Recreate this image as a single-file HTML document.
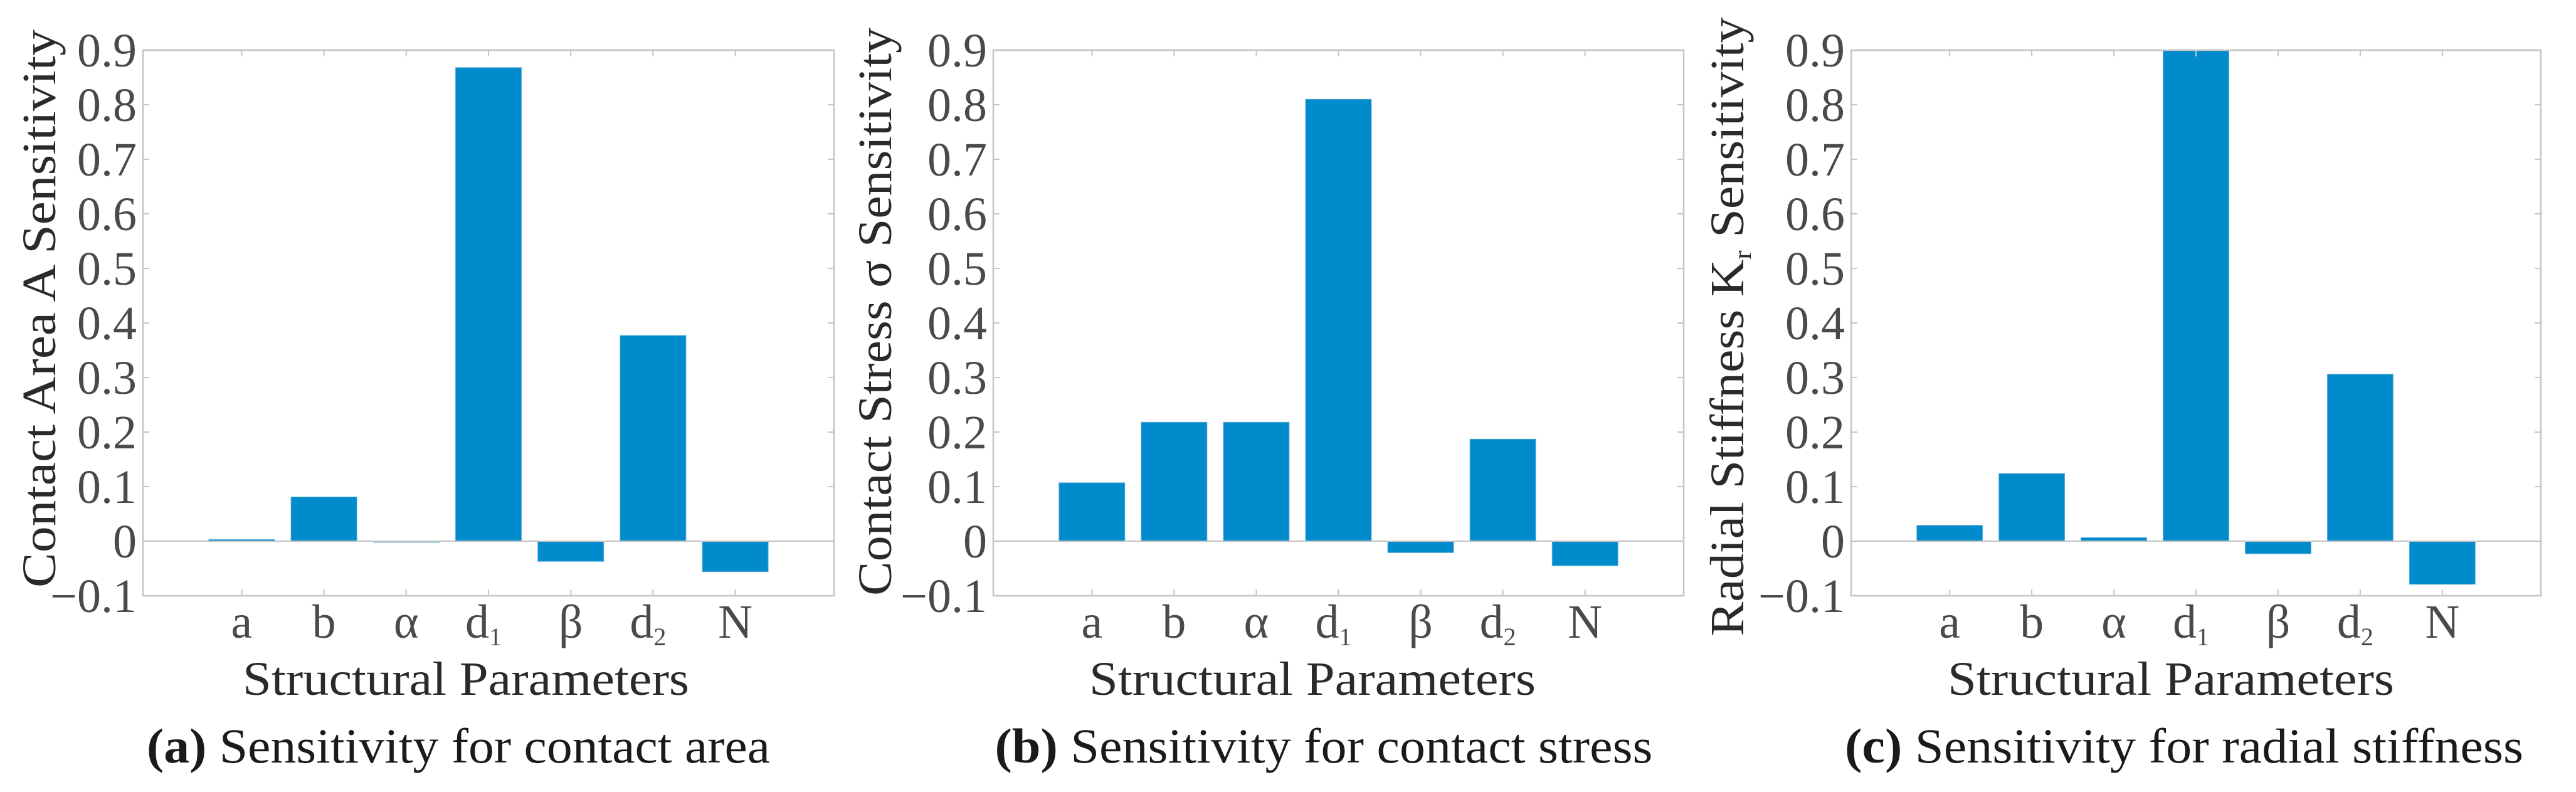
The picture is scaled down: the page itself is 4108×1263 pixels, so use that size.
<!DOCTYPE html>
<html><head><meta charset="utf-8"><style>
html,body{margin:0;padding:0;background:#fff;}
svg{display:block;}
text{font-family:"Liberation Serif",serif;}
</style></head><body>
<svg id="fig" width="4108" height="1263" viewBox="0 0 4108 1263" xmlns="http://www.w3.org/2000/svg"></svg>
<script>
const categories = ['a','b','α','d1','β','d2','N'];
const areaValues = [0.003, 0.081, -0.002, 0.868, -0.037, 0.377, -0.056];
const stressValues = [0.107, 0.218, 0.218, 0.810, -0.021, 0.187, -0.045];
const stiffnessValues = [0.029, 0.124, 0.0065, 0.900, -0.023, 0.306, -0.079];
const yTicks = [-0.1, 0, 0.1, 0.2, 0.3, 0.4, 0.5, 0.6, 0.7, 0.8, 0.9];
const yTickLabels = ['\u22120.1','0','0.1','0.2','0.3','0.4','0.5','0.6','0.7','0.8','0.9'];

const NS = 'http://www.w3.org/2000/svg';
const svg = document.getElementById('fig');
function mk(tag, attrs, parent){const e=document.createElementNS(NS,tag);for(const k in attrs)e.setAttribute(k,attrs[k]);(parent||svg).appendChild(e);return e;}

const panels = [
 {id:'a', L:228, R:1330, vals:areaValues, ylab:['Contact Area A Sensitivity'], ylx:62, ycy:492, ylen:890, sx:743, cx:731, cap:'Sensitivity for contact area', capw:994, tlx:218},
 {id:'b', L:1584, R:2685, vals:stressValues, ylab:['Contact Stress σ Sensitivity'], ylx:1395, ycy:497, ylen:906, sx:2093, cx:2111, cap:'Sensitivity for contact stress', capw:1049, tlx:1574},
 {id:'c', L:2952, R:4052, vals:stiffnessValues, ylab:null, ylx:2754, ycy:521, ylen:987, sx:3462, cx:3483, cap:'Sensitivity for radial stiffness', capw:1082, tlx:2942}
];
const TOP=80, BOT=950, Y0=-0.1, Y1=0.9, X0=-0.2, X1=8.2;

panels.forEach(p=>{
  const g = mk('g',{});
  
  
  const xs = v => p.L + (v - X0)/(X1 - X0)*(p.R - p.L);
  const ys = v => BOT - (v - Y0)/(Y1 - Y0)*(BOT - TOP);
  // bars
  p.vals.forEach((v,i)=>{
    const x = xs(i+1-0.4), w = xs(i+1.4)-xs(i+0.6);
    const y = Math.min(ys(v), ys(0)), h = Math.max(Math.abs(ys(v)-ys(0)),1.5);
    const r = mk('rect',{x:x,y:y,width:w,height:h,fill:'#008bcd',stroke:'#5aa9d6','stroke-width':1},g);
    
    
  });
  // zero line
  const z = mk('line',{x1:p.L,x2:p.R,y1:ys(0),y2:ys(0),stroke:'#c4c4c4','stroke-width':2},g);
  
  
  // box
  const b = mk('rect',{x:p.L,y:TOP,width:p.R-p.L,height:BOT-TOP,fill:'none',stroke:'#c4c4c4','stroke-width':2.5},g);
  
  
  // y ticks
  yTicks.forEach((t,i)=>{
    mk('line',{x1:p.L,x2:p.L+10,y1:ys(t),y2:ys(t),stroke:'#c4c4c4','stroke-width':2},g);
    mk('line',{x1:p.R,x2:p.R-10,y1:ys(t),y2:ys(t),stroke:'#c4c4c4','stroke-width':2},g);
    const tx = mk('text',{x:p.tlx,y:ys(t)+26,'text-anchor':'end','font-size':76,fill:'#4a4a4a'},g);
    tx.textContent = yTickLabels[i];
    
    
  });
  // x ticks
  categories.forEach((c,i)=>{
    const x = xs(i+1);
    mk('line',{x1:x,x2:x,y1:BOT,y2:BOT-10,stroke:'#c4c4c4','stroke-width':2},g);
    mk('line',{x1:x,x2:x,y1:TOP,y2:TOP+10,stroke:'#c4c4c4','stroke-width':2},g);
    const tx = mk('text',{x:x,y:1017,'text-anchor':'middle','font-size':76,fill:'#4a4a4a'},g);
    if(c.length===2){
      tx.setAttribute('x', x-8);
      tx.textContent = c[0];
      const s = mk('tspan',{'font-size':40,dy:12},tx); s.textContent = c[1];
    } else tx.textContent = c;
    
    
  });
  // x title
  const xt = mk('text',{x:p.sx,y:1108,'text-anchor':'middle','font-size':76,fill:'#2a2a2a',textLength:712,lengthAdjust:'spacingAndGlyphs'},g);
  xt.textContent='Structural Parameters';
  
  
  // y title
  const yt = mk('text',{x:0,y:0,'text-anchor':'middle','font-size':76,fill:'#2a2a2a',transform:`translate(${p.ylx+26},${p.ycy}) rotate(-90)`,textLength:p.ylen,lengthAdjust:'spacingAndGlyphs'},g);
  if(p.ylab) yt.textContent = p.ylab[0];
  else { yt.textContent='Radial Stiffness K'; const s=mk('tspan',{'font-size':40,dy:12},yt); s.textContent='r'; const s2=mk('tspan',{dy:-12},yt); s2.textContent=' Sensitivity'; }
  
  
  // caption
  const ct = mk('text',{x:p.cx,y:1216,'text-anchor':'middle','font-size':78,fill:'#1a1a1a',textLength:p.capw,lengthAdjust:'spacingAndGlyphs'},g);
  const bt = mk('tspan',{'font-weight':'bold'},ct); bt.textContent='('+p.id+')';
  const rt = mk('tspan',{},ct); rt.textContent=' '+p.cap;
  
  
});
</script>
</body></html>
